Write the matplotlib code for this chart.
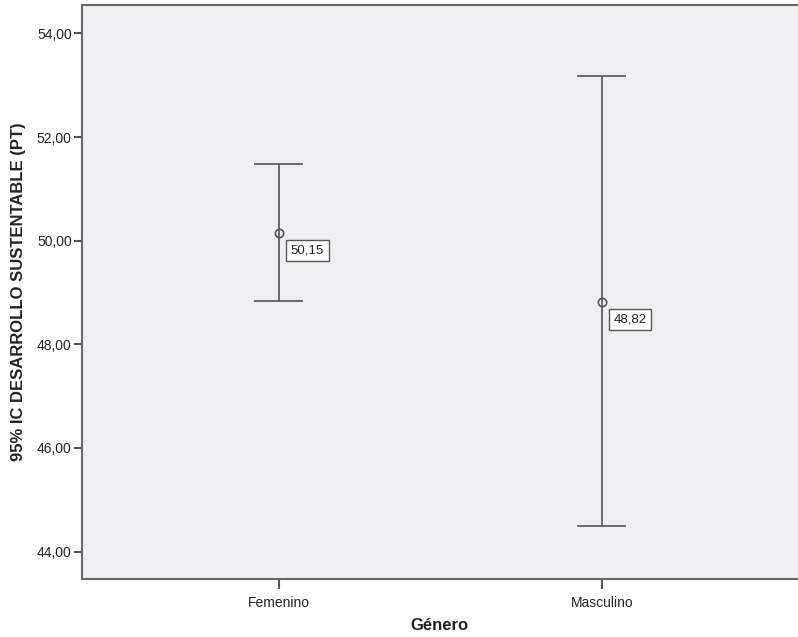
import matplotlib
matplotlib.use("Agg")
import matplotlib.pyplot as plt
from matplotlib.ticker import FuncFormatter

categories = ["Femenino", "Masculino"]
means = [50.15, 48.82]
lower = [48.84, 44.49]
upper = [51.48, 53.17]
mean_labels = ["50,15", "48,82"]
yticks = [44, 46, 48, 50, 52, 54]

plt.rcParams['font.family'] = ['Liberation Sans', 'DejaVu Sans']

fig = plt.figure(figsize=(7.98, 6.37), dpi=100)
ax = fig.add_axes([81.5 / 798, 58 / 637, 1 - 81.5 / 798, 574 / 637])
ax.set_facecolor('#eff0f2')

line_col = '#555555'
xs = list(range(len(categories)))
for x, m, lo, hi, lab in zip(xs, means, lower, upper, mean_labels):
    ax.vlines(x, lo, hi, color=line_col, lw=1.2, zorder=2)
    ax.hlines([lo, hi], x - 0.076, x + 0.076, color=line_col, lw=1.2, zorder=2)
    ax.plot([x], [m], marker='o', ms=6, mfc='none', mec=line_col, mew=1.2, zorder=3)
    ax.annotate(lab, (x, m), xytext=(8.5, -8.5), textcoords='offset points',
                ha='left', va='top', fontsize=9.5, color='#222222',
                bbox=dict(boxstyle='square,pad=0.35', fc='white', ec='#555555', lw=1.0))

ax.set_xlim(-0.611, 1.607)
ax.set_ylim(43.47, 54.55)
ax.set_xticks(xs)
ax.set_xticklabels(categories, fontsize=10, color='#222222')
ax.set_yticks(yticks)
ax.yaxis.set_major_formatter(FuncFormatter(lambda v, p: f"{v:.2f}".replace('.', ',')))
ax.tick_params(axis='y', labelsize=10, labelcolor='#222222', length=6, width=1.5, color='#555555', pad=1)
ax.tick_params(axis='x', length=7, width=1.5, color='#555555', pad=5)

for s in ['left', 'bottom', 'top']:
    ax.spines[s].set_color('#666666')
    ax.spines[s].set_linewidth(1.5)
ax.spines['right'].set_visible(False)

ax.set_ylabel("95% IC DESARROLLO SUSTENTABLE (PT)", fontsize=12, fontweight='bold', color='#222222', labelpad=8)
ax.set_xlabel("Género", fontsize=12, fontweight='bold', color='#222222', labelpad=6)

fig.savefig("out.png", dpi=100)
